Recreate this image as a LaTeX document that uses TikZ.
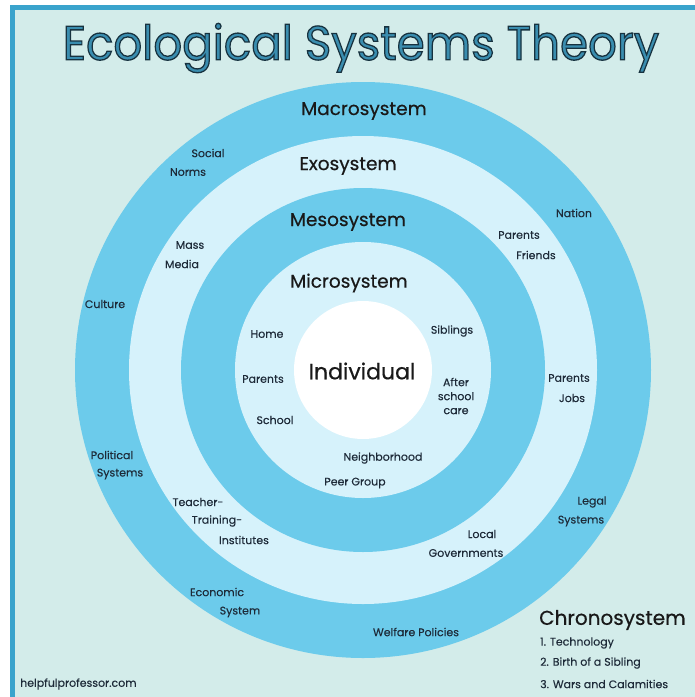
\documentclass[tikz,border=0pt]{standalone}
\usepackage{fontspec}
\setmainfont{Poppins}
\newfontfamily\medfont[FakeBold=0.5]{Poppins}
\newfontfamily\lblfont[FakeBold=0.2]{Poppins}

\definecolor{mint}{HTML}{D3ECEA}
\definecolor{frameblue}{HTML}{3AA3CC}
\definecolor{ringdark}{HTML}{6CCBEB}
\definecolor{ringlight}{HTML}{D6F2FB}
\definecolor{titleblue}{HTML}{3A8DAF}
\definecolor{ink}{HTML}{1D2A38}

% Umrissschrift fuer den Titel (Textmodus 2: fuellen und umranden)
\newcommand{\outlinetext}[1]{\special{pdf:literal direct 2 Tr 1.3 w 0.09 0.196 0.247 RG}#1\special{pdf:literal direct 0 Tr}}

\tikzset{
  lbl/.style={text=ink, font=\lblfont\fontsize{11}{13}\selectfont, inner sep=0pt},
  sysname/.style={text=black!90, font=\medfont\fontsize{18.5}{21}\selectfont, inner sep=0pt},
  chrono/.style={text=ink, font=\lblfont\fontsize{11}{13}\selectfont, inner sep=0pt, anchor=west},
}

\begin{document}
\begin{tikzpicture}[x=1pt,y=-1pt]
    \useasboundingbox (0,0) rectangle (695,697);
    % Hintergrund und Rahmen:
    \fill[white] (0,0) rectangle (695,697);
    \fill[mint] (10,5) rectangle (695,697);
    \draw[frameblue, line width=5pt] (12.5,700) -- (12.5,7.5) -- (700,7.5);
    % Ringe von aussen nach innen:
    \fill[ringdark] (363,370) circle[radius=288]; % Makro
    \fill[ringlight] (363,370) circle[radius=234]; % Exo
    \fill[ringdark] (363,370) circle[radius=182]; % Meso
    \fill[ringlight] (363,370) circle[radius=128]; % Mikro
    \fill[white] (363,370) circle[radius=69]; % Individuum

    % Titel:
    \node[inner sep=0pt, text=titleblue, font=\fontsize{48}{52}\selectfont] (title) at (361,48)
        {\scalebox{0.94}[1]{\outlinetext{Ecological Systems Theory}}};

    % Systemnamen:
    \node[sysname] (macro) at (364,111) {Macrosystem};
    \node[sysname] (exo) at (348,166) {Exosystem};
    \node[sysname] (meso) at (348,222) {Mesosystem};
    \node[sysname] (micro) at (349,283) {Microsystem};
    \node[sysname, font=\medfont\fontsize{22}{25}\selectfont] (indiv) at (362,371) {Individual};

    % Mikrosystem:
    \node[lbl] (home) at (267,334) {Home};
    \node[lbl] (parentsA) at (263,379) {Parents};
    \node[lbl] (school) at (275,420) {School};
    \node[lbl] (siblings) at (452,331) {Siblings};
    \node[lbl, align=center, font=\lblfont\fontsize{11}{14}\selectfont] (afterschool) at (456,396) {After\\school\\care};
    \node[lbl] (neighbor) at (383,458) {Neighborhood};
    \node[lbl] (peer) at (355,483) {Peer Group};

    % Exosystem:
    \node[lbl] (mass) at (190,245) {Mass};
    \node[lbl] (media) at (182,264) {Media};
    \node[lbl] (parentsB) at (519,235) {Parents};
    \node[lbl] (friends) at (536,255) {Friends};
    \node[lbl] (parentsC) at (569,378) {Parents};
    \node[lbl] (jobs) at (572,398) {Jobs};
    \node[lbl] (local) at (482,534) {Local};
    \node[lbl] (govs) at (466,553) {Governments};
    \node[lbl] (teacher) at (198,502) {Teacher-};
    \node[lbl] (training) at (217,521) {Training-};
    \node[lbl] (institutes) at (244,540) {Institutes};

    % Makrosystem:
    \node[lbl] (social) at (208,153) {Social};
    \node[lbl] (norms) at (188,172) {Norms};
    \node[lbl] (culture) at (105,304) {Culture};
    \node[lbl] (nation) at (574,213) {Nation};
    \node[lbl] (political) at (112,455) {Political};
    \node[lbl] (polsys) at (120,474) {Systems};
    \node[lbl] (legal) at (592,502) {Legal};
    \node[lbl] (legsys) at (581,521) {Systems};
    \node[lbl] (economic) at (217,592) {Economic};
    \node[lbl] (ecosys) at (240,612) {System};
    \node[lbl] (welfare) at (416,632) {Welfare Policies};

    % Chronosystem:
    \node[sysname, anchor=west, font=\medfont\fontsize{20}{23}\selectfont] (chronosys) at (539,620) {Chronosystem};
    \node[chrono] (tech) at (540,643) {1. Technology};
    \node[chrono] (birth) at (540,663) {2. Birth of a Sibling};
    \node[chrono] (wars) at (540,684) {3. Wars and Calamities};

    % Quelle:
    \node[chrono] (source) at (20,684) {helpfulprofessor.com};
\end{tikzpicture}
\end{document}
